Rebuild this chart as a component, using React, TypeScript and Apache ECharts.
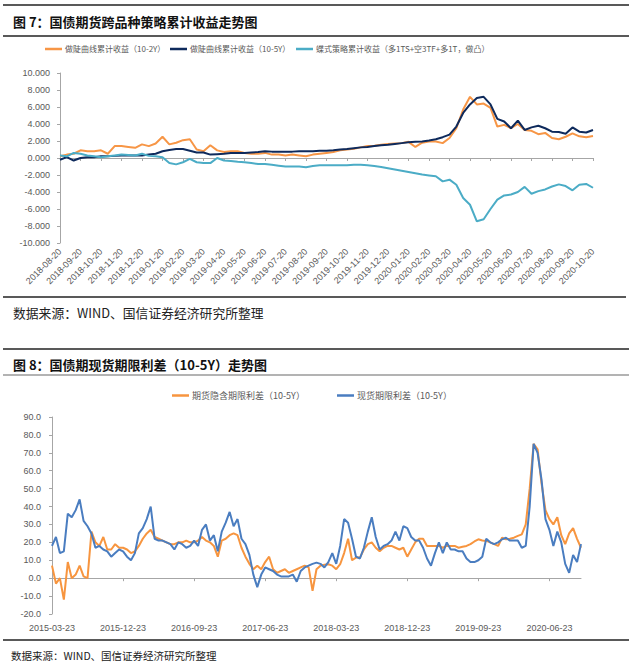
import React, { useEffect, useRef } from "react";
import * as echarts from "echarts";

// ---------- Chart 1 (图7) ----------
const c1Names = [
  "做陡曲线累计收益（10-2Y）",
  "做陡曲线累计收益（10-5Y）",
  "蝶式策略累计收益（多1TS+空3TF+多1T，做凸）",
];
const c1Orange = [
  0.2, 0.4, 0.5, 0.9, 0.8, 0.8, 0.9, 0.5, 1.4, 1.4, 1.3, 1.2, 1.6, 1.4, 1.7, 2.5, 1.6, 1.8, 2.1, 2.2,
  1.0, 0.8, 1.5, 0.9, 0.7, 0.8, 0.8, 0.6, 0.5, 0.5, 0.6, 0.4, 0.4, 0.3, 0.4, 0.3, 0.2, 0.4, 0.5, 0.6,
  0.7, 0.9, 1.0, 1.1, 1.25, 1.4, 1.45, 1.55, 1.65, 1.7, 1.75, 1.9, 1.3, 1.8, 1.95, 1.95, 1.75, 2.35, 3.5, 5.7,
  7.2, 6.3, 6.4, 5.9, 3.7, 3.9, 3.5, 4.0, 3.3, 3.2, 2.8, 2.95, 2.35, 2.2, 2.5, 2.9, 2.55, 2.45, 2.6,
];
const c1Navy = [
  -0.2, 0.1, -0.3, 0.0, 0.1, 0.1, 0.2, 0.2, 0.25, 0.3, 0.3, 0.3, 0.3, 0.4, 0.5, 0.8, 0.95, 1.05, 1.05, 0.85,
  0.65, 0.65, 0.4, 0.45, 0.5, 0.6, 0.6, 0.6, 0.65, 0.7, 0.8, 0.75, 0.75, 0.75, 0.75, 0.8, 0.8, 0.8, 0.85, 0.85,
  0.9, 1.0, 1.05, 1.15, 1.25, 1.3, 1.4, 1.5, 1.55, 1.65, 1.75, 1.85, 1.9, 1.95, 2.05, 2.2, 2.45, 2.75, 3.7, 5.3,
  6.3, 7.05, 7.2, 6.3, 4.6, 4.3, 3.5, 4.4, 3.3, 3.6, 3.8, 3.5, 3.1, 3.05, 2.85, 3.6, 3.1, 3.0, 3.3,
];
const c1Blue = [
  0.3, 0.2, 0.6, 0.5, 0.3, 0.2, 0.1, 0.2, 0.3, 0.4, 0.35, 0.3, 0.5, 0.25, 0.2, 0.1, -0.6, -0.75, -0.5, -0.1,
  -0.5, -0.6, -0.6, 0.0, -0.3, -0.35, -0.45, -0.5, -0.6, -0.7, -0.7, -0.8, -0.9, -1.0, -1.0, -1.0, -1.1, -0.95, -0.85, -0.85,
  -0.85, -0.85, -0.85, -0.8, -0.8, -0.85, -0.95, -1.05, -1.2, -1.35, -1.5, -1.65, -1.8, -1.95, -2.05, -2.15, -2.75, -2.55, -3.15, -4.7,
  -5.5, -7.45, -7.2, -6.0, -4.9, -4.4, -4.3, -4.0, -3.4, -4.2, -3.9, -3.7, -3.35, -3.1, -3.3, -3.8, -3.15, -3.05, -3.5,
];
const c1Colors = ["#F79646", "#0E2A5C", "#4BACC6"];

// ---------- Chart 2 (图8) ----------
const c2Names = ["期货隐含期限利差（10-5Y）", "现货期限利差（10-5Y）"];
const c2Orange = [
  7, -3, 0, -12, 9, 0, 2, 7, 1, 0, 26, 20, 18, 23, 16, 16, 19, 17, 17, 16,
  14, 15, 18, 22, 25, 27, 23, 22, 21, 20, 19, 19, 20, 20, 21, 20, 20, 21, 23, 21,
  20, 18, 12, 21, 22, 24, 25, 24, 17, 12, 8, 5, 7, 5, 9, 12, 5, 3, 4, 5,
  3, 4, 5, 6, 7, 6, -7, 5, 7, 7.5, 7.8, 7, 5, 7.8, 14, 22, 10, 11.5, 11.5, 16,
  19, 20, 17, 15, 17, 18, 18, 17, 16, 17, 12, 16, 20, 22, 22, 18, 18, 18, 18, 17,
  18, 18, 18, 17, 17.5, 18, 19, 20.5, 21.7, 21, 20.8, 20, 19, 18, 22.6, 21.7, 22, 22.6, 23.6, 24.5,
  30, 50, 75, 72, 53, 38, 33, 30, 34, 24, 19, 25, 28, 22, 17,
];
const c2Blue = [
  18, 23, 14, 15, 36, 34, 38, 44, 32, 29, 25, 17, 18, 16, 15, 12, 14, 16, 15, 12,
  10, 14, 25, 28, 33, 40, 22, 21, 21, 20, 19, 16, 20, 19, 17, 18, 21, 18, 27, 30,
  21, 24, 15, 26, 31, 37, 29, 33, 22, 19, 13, 2, -5, 2, 6, 5, 4, 2, 1, 1,
  1, 2, -2, 4, 6, 7, 8, 8.7, 8, 6, 9, 14, 8, 18, 33, 31, 22, 12, 11, 17,
  26, 34, 23, 16, 18, 19, 21, 26, 21, 29, 28, 23, 21, 21, 17, 11, 7, 14, 20, 14,
  20, 16, 16, 15, 15, 11, 9, 9, 10, 12, 22, 20, 19, 20, 21.7, 22.6, 21, 21, 21, 17,
  18, 40, 75, 70, 55, 33, 27, 18, 26, 20, 8, 3, 13, 9, 19,
];
const c2Colors = ["#F7953F", "#4A7DC0"];

const pad = (n: number) => String(n).padStart(2, "0");

// category dates: chart 1 -> 20th, 30th, next 10th of each month; labels on the 20th
function buildCats1(): string[] {
  const out: string[] = [];
  let y = 2018, m = 8;
  for (let k = 0; k <= 26; k++) {
    out.push(`${y}-${pad(m)}-20`);
    if (k < 26) {
      out.push(`${y}-${pad(m)}-${m === 2 ? "28" : "30"}`);
      let ny = y, nm = m + 1;
      if (nm > 12) { nm = 1; ny++; }
      out.push(`${ny}-${pad(nm)}-10`);
      y = ny; m = nm;
    }
  }
  return out;
}
// chart 2 -> 23rd and next 8th of each month; labels every 9 months
function buildCats2(): string[] {
  const out: string[] = [];
  let y = 2015, m = 3;
  for (let k = 0; k <= 67; k++) {
    out.push(`${y}-${pad(m)}-23`);
    if (k < 67) {
      let ny = y, nm = m + 1;
      if (nm > 12) { nm = 1; ny++; }
      out.push(`${ny}-${pad(nm)}-08`);
      y = ny; m = nm;
    }
  }
  return out;
}
const cats1 = buildCats1();
const cats2 = buildCats2();

const LATIN = "'Liberation Sans', Arial, sans-serif";
const CJK = "'Noto Sans CJK SC', 'Liberation Sans', sans-serif";
const AXIS_GRAY = "#A6A6A6";
const LABEL = "#595959";

function hline(x1: number, x2: number, y: number, stroke: string, w: number) {
  return { type: "line", silent: true, shape: { x1, y1: y, x2, y2: y }, style: { stroke, lineWidth: w } };
}
function txt(x: number, y: number, text: string, size: number, bold: boolean, fill: string) {
  return {
    type: "text",
    x,
    y,
    silent: true,
    style: { text, fontSize: size, fontWeight: bold ? "bold" : "normal", fontFamily: CJK, fill, verticalAlign: "middle" },
  };
}
function legendAt(left: number, top: number, name: string, size: number) {
  return {
    left,
    top,
    data: [name],
    icon: "rect",
    itemWidth: 17,
    itemHeight: 2.5,
    itemGap: 0,
    padding: 0,
    textStyle: { fontSize: size, color: LABEL, fontFamily: CJK, padding: [0, 0, 0, -2] },
  };
}

export default function App() {
  const ref = useRef<HTMLDivElement>(null);
  useEffect(() => {
    if (!ref.current) return;
    const chart = echarts.init(ref.current, undefined, { renderer: "svg" });
    const every3 = (i: number) => i % 3 === 0;
    const every18 = (i: number) => i % 18 === 0;
    const option: any = {
      animation: false,
      backgroundColor: "#ffffff",
      textStyle: { fontFamily: LATIN },
      legend: [
        legendAt(45, 45, c1Names[0], 8),
        legendAt(170, 45, c1Names[1], 8),
        legendAt(296, 45, c1Names[2], 8),
        legendAt(172, 391, c2Names[0], 9),
        legendAt(337, 391, c2Names[1], 9),
      ],
      grid: [
        { left: 60, top: 73, width: 533, height: 170 },
        { left: 52, top: 417, width: 529, height: 197 },
      ],
      xAxis: [
        {
          gridIndex: 0, type: "category", data: cats1, boundaryGap: false, position: "bottom",
          axisLine: { show: false, onZero: false }, axisTick: { show: false },
          axisLabel: { interval: every3, rotate: 45, margin: 7, fontSize: 9, color: LABEL, fontFamily: LATIN },
        },
        {
          gridIndex: 0, type: "category", data: cats1, boundaryGap: false, position: "top",
          axisLine: { show: true, onZero: true, lineStyle: { color: AXIS_GRAY, width: 1 } },
          axisTick: { show: true, inside: true, length: 3, interval: every3, lineStyle: { color: AXIS_GRAY } },
          axisLabel: { show: false },
        },
        {
          gridIndex: 1, type: "category", data: cats2, boundaryGap: false, position: "bottom",
          axisLine: { show: false, onZero: false }, axisTick: { show: false },
          axisLabel: { interval: every18, margin: 9, fontSize: 9, color: LABEL, fontFamily: LATIN },
        },
        {
          gridIndex: 1, type: "category", data: cats2, boundaryGap: false, position: "top",
          axisLine: { show: true, onZero: true, lineStyle: { color: AXIS_GRAY, width: 1 } },
          axisTick: { show: true, inside: true, length: 3, interval: every18, lineStyle: { color: AXIS_GRAY } },
          axisLabel: { show: false },
        },
      ],
      yAxis: [
        {
          gridIndex: 0, type: "value", min: -10, max: 10, interval: 2,
          axisLine: { show: true, lineStyle: { color: AXIS_GRAY } },
          axisTick: { show: true, length: 3, lineStyle: { color: AXIS_GRAY } },
          splitLine: { show: false },
          axisLabel: { margin: 10, fontSize: 9, color: LABEL, fontFamily: LATIN, formatter: (v: number) => v.toFixed(3) },
        },
        {
          gridIndex: 1, type: "value", min: -20, max: 90, interval: 10,
          axisLine: { show: true, lineStyle: { color: AXIS_GRAY } },
          axisTick: { show: true, length: 3, lineStyle: { color: AXIS_GRAY } },
          splitLine: { show: false },
          axisLabel: { margin: 11, fontSize: 9, color: LABEL, fontFamily: LATIN, formatter: (v: number) => v.toFixed(1) },
        },
      ],
      series: [
        { name: c1Names[0], data: c1Orange, color: c1Colors[0], xAxisIndex: 0, yAxisIndex: 0 },
        { name: c1Names[1], data: c1Navy, color: c1Colors[1], xAxisIndex: 0, yAxisIndex: 0 },
        { name: c1Names[2], data: c1Blue, color: c1Colors[2], xAxisIndex: 0, yAxisIndex: 0 },
        { name: c2Names[0], data: c2Orange, color: c2Colors[0], xAxisIndex: 2, yAxisIndex: 1 },
        { name: c2Names[1], data: c2Blue, color: c2Colors[1], xAxisIndex: 2, yAxisIndex: 1 },
      ].map((s) => ({
        type: "line",
        name: s.name,
        data: s.data,
        xAxisIndex: s.xAxisIndex,
        yAxisIndex: s.yAxisIndex,
        showSymbol: false,
        symbol: "none",
        lineStyle: { width: 2, color: s.color },
        itemStyle: { color: s.color },
      })),
      graphic: [
        hline(3, 629, 5, "#222", 1.5),
        txt(13, 21, "图 7：国债期货跨品种策略累计收益走势图", 13, true, "#111"),
        hline(3, 629, 36, "#222", 1.5),
        hline(3, 626, 297, "#222", 1.3),
        txt(13, 312, "数据来源：WIND、国信证券经济研究所整理", 12.8, false, "#222"),
        hline(3, 629, 349, "#222", 1.5),
        txt(13, 364, "图 8：国债期现货期限利差（10-5Y）走势图", 13, true, "#111"),
        hline(3, 629, 375, "#9A9A9A", 1.5),
        hline(3, 629, 640, "#222", 1.3),
        txt(11, 655, "数据来源：WIND、国信证券经济研究所整理", 10.5, false, "#222"),
      ],
    };
    chart.setOption(option);
    return () => chart.dispose();
  }, []);
  return (
    <div
      ref={ref}
      style={{ position: "absolute", left: 0, top: 0, width: 629, height: 667, background: "#fff" }}
    />
  );
}
